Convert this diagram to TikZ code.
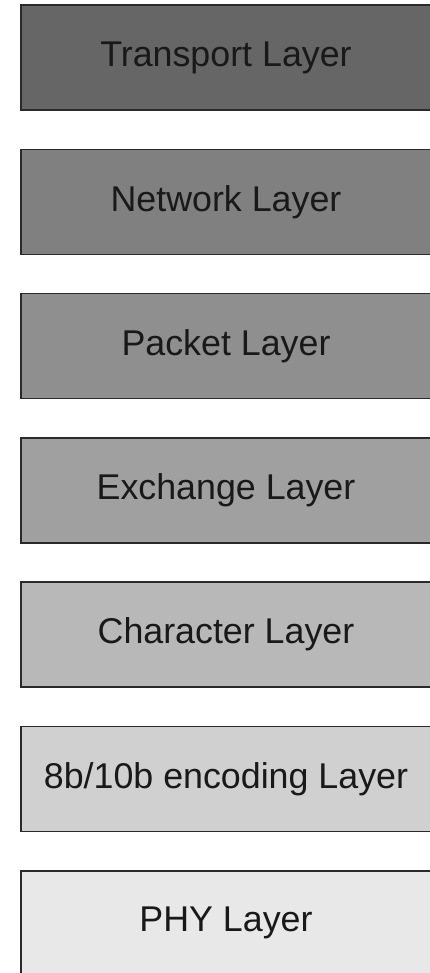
\documentclass[tikz,border=0pt]{standalone}
\usepackage{fontspec}
\setmainfont{Liberation Sans}
\usepackage{tikz}
\usetikzlibrary{positioning}
\definecolor{edge}{HTML}{2A2A2A}
\definecolor{shadeA}{HTML}{666666}
\definecolor{shadeB}{HTML}{808080}
\definecolor{shadeC}{HTML}{8F8F8F}
\definecolor{shadeD}{HTML}{A0A0A0}
\definecolor{shadeE}{HTML}{B8B8B8}
\definecolor{shadeF}{HTML}{D0D0D0}
\definecolor{shadeG}{HTML}{E8E8E8}
\tikzset{
  layerbox/.style={draw=edge, line width=1.5pt, minimum width=410pt,
    minimum height=105pt, text=black!90,
    font=\fontsize{35.8}{43}\selectfont}
}

\begin{document}
\begin{tikzpicture}[x=1pt, y=1pt]
  \useasboundingbox (0,0) rectangle (430,-973);
  \clip (0,0) rectangle (430,-973);
  % Protocol stack, top to bottom
  \node[layerbox, fill=shadeA] (transport) at (226,-57.5) {Transport Layer};
  \node[layerbox, fill=shadeB, below=37.8pt of transport] (network) {Network Layer};
  \node[layerbox, fill=shadeC, below=37.8pt of network] (packet) {Packet Layer};
  \node[layerbox, fill=shadeD, below=37.8pt of packet] (exchange) {Exchange Layer};
  \node[layerbox, fill=shadeE, below=37.8pt of exchange] (character) {Character Layer};
  \node[layerbox, fill=shadeF, below=37.8pt of character] (encoding) {8b/10b encoding Layer};
  \node[layerbox, fill=shadeG, below=37.8pt of encoding] (phy) {PHY Layer};
\end{tikzpicture}
\end{document}
